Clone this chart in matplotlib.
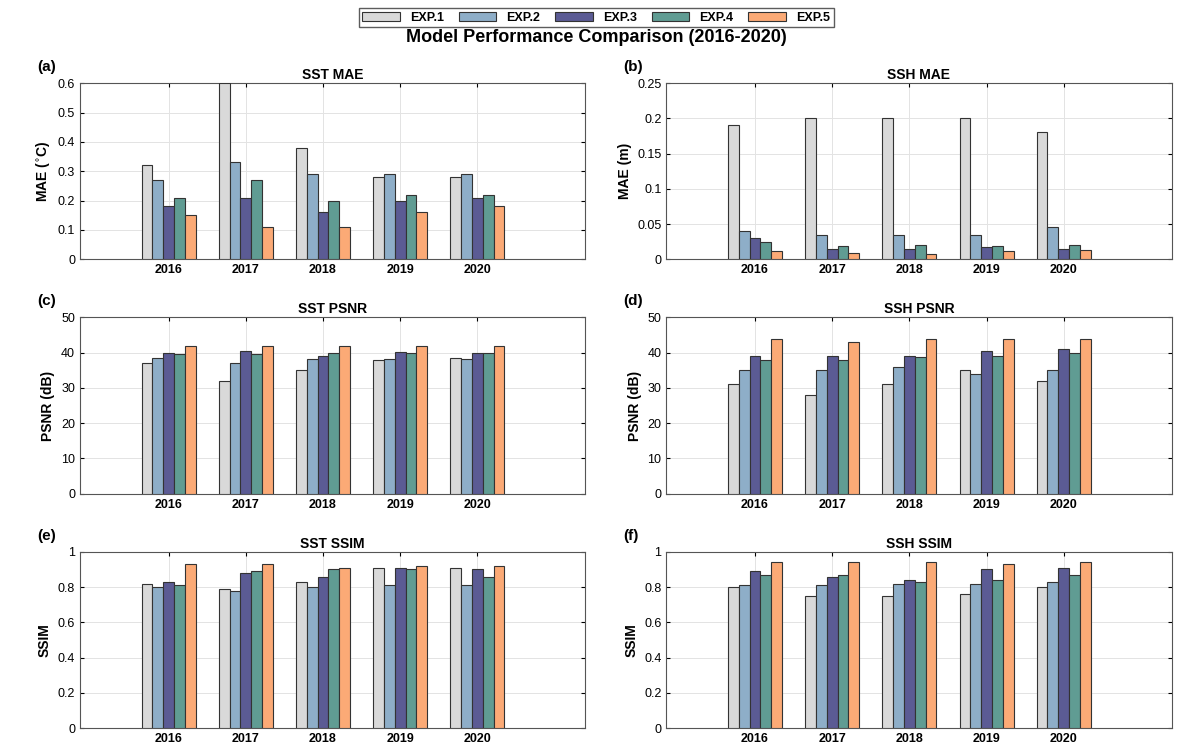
import matplotlib.pyplot as plt
import numpy as np

years = [2016, 2017, 2018, 2019, 2020]
exps = ['EXP.1', 'EXP.2', 'EXP.3', 'EXP.4', 'EXP.5']
colors = ['#d9d9d9', '#8eaec8', '#5b5b94', '#609c93', '#fbaa76']

sst_mae = [[0.32, 0.60, 0.38, 0.28, 0.28],
           [0.27, 0.33, 0.29, 0.29, 0.29],
           [0.18, 0.21, 0.16, 0.20, 0.21],
           [0.21, 0.27, 0.20, 0.22, 0.22],
           [0.15, 0.11, 0.11, 0.16, 0.18]]
ssh_mae = [[0.19, 0.20, 0.20, 0.20, 0.18],
           [0.040, 0.035, 0.035, 0.035, 0.046],
           [0.030, 0.015, 0.014, 0.017, 0.015],
           [0.025, 0.019, 0.021, 0.019, 0.021],
           [0.012, 0.009, 0.008, 0.012, 0.013]]
sst_psnr = [[37, 32, 35, 38, 38.5],
            [38.5, 37, 38.2, 38.3, 38.3],
            [40, 40.5, 39.2, 40.2, 39.8],
            [39.7, 39.5, 40, 40, 40],
            [42, 42, 42, 42, 42]]
ssh_psnr = [[31, 28, 31, 35, 32],
            [35, 35, 36, 34, 35],
            [39, 39.2, 39.2, 40.5, 41],
            [38, 38, 38.7, 39, 40],
            [44, 43, 44, 44, 44]]
sst_ssim = [[0.82, 0.79, 0.83, 0.91, 0.91],
            [0.80, 0.78, 0.80, 0.81, 0.81],
            [0.83, 0.88, 0.86, 0.91, 0.90],
            [0.81, 0.89, 0.90, 0.90, 0.86],
            [0.93, 0.93, 0.91, 0.92, 0.92]]
ssh_ssim = [[0.80, 0.75, 0.75, 0.76, 0.80],
            [0.81, 0.81, 0.82, 0.82, 0.83],
            [0.89, 0.86, 0.84, 0.90, 0.91],
            [0.87, 0.87, 0.83, 0.84, 0.87],
            [0.94, 0.94, 0.94, 0.93, 0.94]]

panels = [
    ('(a)', 'SST MAE', 'MAE ($^{\\circ}$C)', sst_mae, (0, 0.6), np.arange(0, 0.61, 0.1)),
    ('(b)', 'SSH MAE', 'MAE (m)', ssh_mae, (0, 0.25), np.arange(0, 0.251, 0.05)),
    ('(c)', 'SST PSNR', 'PSNR (dB)', sst_psnr, (0, 50), np.arange(0, 51, 10)),
    ('(d)', 'SSH PSNR', 'PSNR (dB)', ssh_psnr, (0, 50), np.arange(0, 51, 10)),
    ('(e)', 'SST SSIM', 'SSIM', sst_ssim, (0, 1), np.arange(0, 1.01, 0.2)),
    ('(f)', 'SSH SSIM', 'SSIM', ssh_ssim, (0, 1), np.arange(0, 1.01, 0.2)),
]

plt.rcParams['font.family'] = ['Liberation Sans', 'DejaVu Sans']
fig, axes = plt.subplots(3, 2, figsize=(11.92, 7.56), dpi=100)
fig.subplots_adjust(left=0.067, right=0.983, top=0.89, bottom=0.037, wspace=0.16, hspace=0.33)

w = 0.14
x = np.array(years, dtype=float)
for ax, (tag, title, ylabel, data, ylim, yt) in zip(axes.flat, panels):
    handles = []
    for i in range(5):
        h = ax.bar(x + (i - 2) * w, data[i], w, color=colors[i], edgecolor='#333333',
                   linewidth=0.8, label=exps[i], zorder=3)
        handles.append(h)
    ax.set_xlim(2014.85, 2021.4)
    ax.set_ylim(*ylim)
    ax.set_yticks(yt)
    ax.set_yticklabels([('%g' % v) for v in yt], fontsize=9)
    ax.set_xticks(years)
    ax.set_xticklabels([str(y) for y in years], fontsize=9, fontweight='bold')
    ax.grid(True, color='#e3e3e3', linewidth=0.7, zorder=0)
    ax.set_title(title, fontsize=10, fontweight='bold', pad=3)
    ax.set_ylabel(ylabel, fontsize=10, fontweight='bold')
    ax.tick_params(direction='in', length=3, top=True, right=True)
    for s in ax.spines.values():
        s.set_color('#555555')
    ax.text(-0.085, 1.07, tag, transform=ax.transAxes, fontsize=11, fontweight='bold')

fig.suptitle('Model Performance Comparison (2016-2020)', fontsize=13, fontweight='bold', y=0.962)
fig.legend(handles=handles, labels=exps, loc='upper center', ncol=5, bbox_to_anchor=(0.5, 0.998),
           prop={'weight': 'bold', 'size': 9}, frameon=True, fancybox=False, edgecolor='#333333',
           handlelength=3.0, columnspacing=1.2, borderpad=0.3)
fig.savefig('out.png', dpi=100)
